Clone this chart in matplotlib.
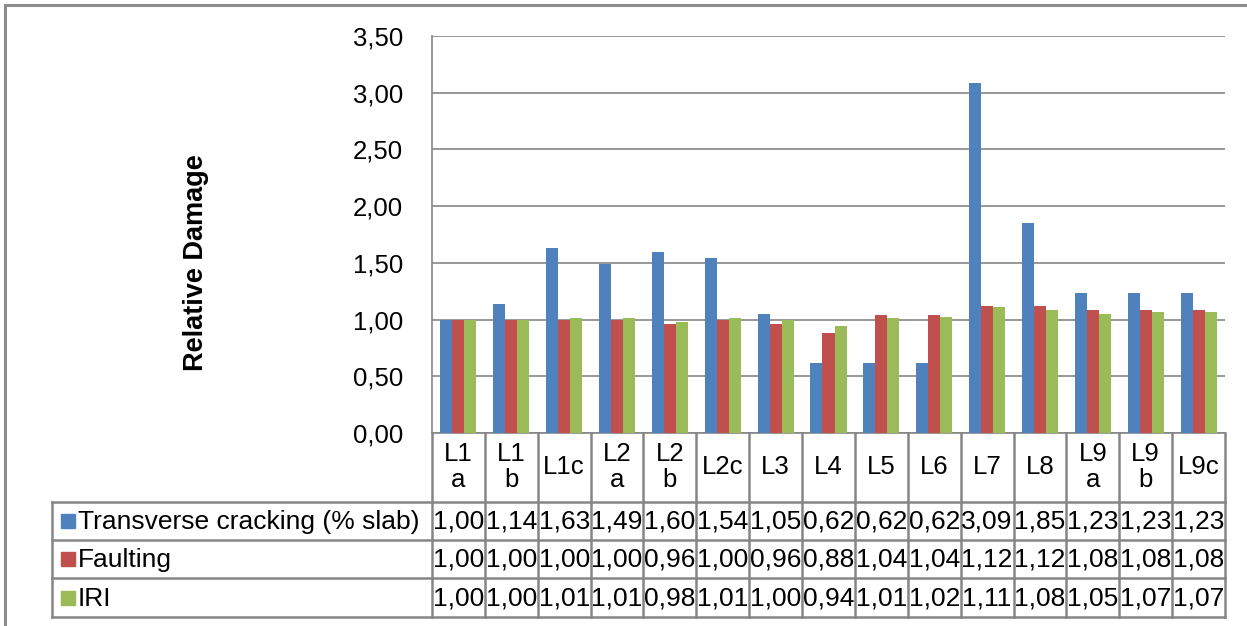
import numpy as np
import matplotlib
matplotlib.use("Agg")
import matplotlib.pyplot as plt
from matplotlib.transforms import blended_transform_factory
from matplotlib.patches import Rectangle

plt.rcParams['font.family'] = ['Liberation Sans', 'DejaVu Sans']

# Data
categories = ['L1\na', 'L1\nb', 'L1c', 'L2\na', 'L2\nb', 'L2c', 'L3', 'L4', 'L5',
              'L6', 'L7', 'L8', 'L9\na', 'L9\nb', 'L9c']
series_names = ['Transverse cracking (% slab)', 'Faulting', 'IRI']
transverse = [1.00, 1.14, 1.63, 1.49, 1.60, 1.54, 1.05, 0.62, 0.62, 0.62, 3.09, 1.85, 1.23, 1.23, 1.23]
faulting = [1.00, 1.00, 1.00, 1.00, 0.96, 1.00, 0.96, 0.88, 1.04, 1.04, 1.12, 1.12, 1.08, 1.08, 1.08]
iri = [1.00, 1.00, 1.01, 1.01, 0.98, 1.01, 1.00, 0.94, 1.01, 1.02, 1.11, 1.08, 1.05, 1.07, 1.07]
yticks = [0.0, 0.5, 1.0, 1.5, 2.0, 2.5, 3.0, 3.5]

colors = ['#4F81BD', '#C0504D', '#9BBB59']
grid_c = '#868686'
W, H = 1247, 626

fig = plt.figure(figsize=(W / 100, H / 100), dpi=100)

# plot area in pixel terms
left, right, top, bottom = 432, 1225, 36, 433
ax = fig.add_axes([left / W, 1 - bottom / H, (right - left) / W, (bottom - top) / H])

x = np.arange(len(categories))
bw = 0.227
for k, vals in enumerate([transverse, faulting, iri]):
    ax.bar(x + (k - 1) * bw, vals, width=bw, color=colors[k], zorder=3)

ax.set_xlim(-0.5, len(categories) - 0.5)
ax.set_ylim(0, 3.5)
ax.set_yticks(yticks)
ax.set_yticklabels([f"{v:.2f}".replace('.', ',') for v in yticks], fontsize=18.5)
ax.tick_params(axis='y', length=0, pad=21)
ax.set_xticks([])
ax.grid(axis='y', color=grid_c, linewidth=1.2, zorder=0)
for s in ['top', 'right']:
    ax.spines[s].set_visible(False)
ax.spines['left'].set_color(grid_c)
ax.spines['bottom'].set_color(grid_c)
ax.spines['left'].set_linewidth(1.2)
ax.spines['bottom'].set_linewidth(1.2)
ax.set_ylabel('Relative Damage', fontsize=19.5, fontweight='bold')
ax.yaxis.set_label_coords(-0.281, 0.43)

# overlay in pixel coordinates for the data table and chart border
ov = fig.add_axes([0, 0, 1, 1], zorder=5)
ov.set_xlim(0, W)
ov.set_ylim(H, 0)
ov.axis('off')
ov.patch.set_alpha(0)
tr = blended_transform_factory(ax.transData, ov.transData)

row_lines = [502, 540, 578, 617]
lw = 1.8
# vertical lines of the table at category boundaries
for i in range(len(categories) + 1):
    ov.plot([i - 0.5, i - 0.5], [bottom, row_lines[-1]], color=grid_c, lw=lw,
            transform=tr, clip_on=False)
# horizontal lines
for yl in row_lines:
    ov.plot([52, right], [yl, yl], color=grid_c, lw=lw, clip_on=False)
ov.plot([52, 52], [row_lines[0], row_lines[-1]], color=grid_c, lw=lw, clip_on=False)

# header labels
for i, lab in enumerate(categories):
    ov.text(i, 467, lab, transform=tr, ha='center', va='center', fontsize=18.5,
            linespacing=1.15)

# value rows
for r, vals in enumerate([transverse, faulting, iri]):
    yc = (row_lines[r] + row_lines[r + 1]) / 2
    ov.add_patch(Rectangle((61, yc - 7), 14, 14, color=colors[r]))
    ov.text(78, yc + 1, series_names[r], ha='left', va='center', fontsize=19)
    for i, v in enumerate(vals):
        ov.text(i, yc + 1, f"{v:.2f}".replace('.', ','), transform=tr,
                ha='center', va='center', fontsize=19)

# chart area border
ov.plot([5, W], [5, 5], color='#8C8C8C', lw=2.2, clip_on=False)
ov.plot([5, 5], [5, H], color='#8C8C8C', lw=2.2, clip_on=False)

plt.savefig("out.png", dpi=100)
